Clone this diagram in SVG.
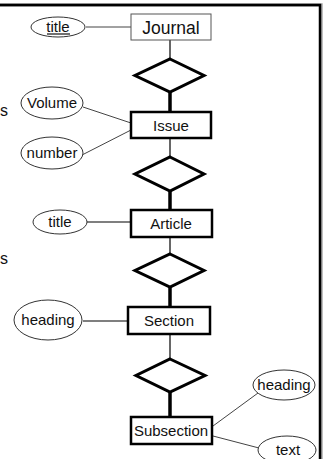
<svg xmlns="http://www.w3.org/2000/svg" width="323" height="459" viewBox="0 0 323 459">
  <style>
    text { font-family: "Liberation Sans", Arial, sans-serif; font-size: 15px; fill: #111; text-anchor: middle; }
    .side { font-size: 16px; text-anchor: start; }
    .ent { fill: #fff; stroke: #000; stroke-width: 2.5; }
    .ent-thin { fill: #fff; stroke: #555; stroke-width: 1; }
    .rel { fill: #fff; stroke: #000; stroke-width: 3; stroke-linejoin: miter; }
    .attr { fill: #fff; stroke: #333; stroke-width: 1; }
    .thin { stroke: #000; stroke-width: 1.2; fill: none; }
    .thick { stroke: #000; stroke-width: 3.5; fill: none; }
    .link { stroke: #444; stroke-width: 1; fill: none; }
    .frame { stroke: #000; stroke-width: 2.5; fill: none; }
  </style>

  <rect width="323" height="459" fill="#fff"/>

  <!-- outer frame (top and right edges visible) -->
  <path d="M0,5 H321 V459" stroke="#aaa" stroke-width="3.5" fill="none"/>
  <path class="frame" d="M0,5 H320 V459"/>

  <!-- side labels at the left margin -->
  <text class="side" x="0" y="116">s</text>
  <text class="side" x="0" y="264">s</text>

  <!-- connectors -->
  <g id="connectors">
    <line class="link" x1="86" y1="27" x2="131" y2="27" stroke="#777"/>
    <line class="thin" x1="170" y1="40" x2="170" y2="59"/>
    <line class="thick" x1="170" y1="92" x2="170" y2="112"/>
    <line class="link" x1="83" y1="107" x2="131" y2="123"/>
    <line class="link" x1="82" y1="155" x2="131" y2="130"/>
    <line class="thin" x1="170" y1="138" x2="170" y2="157"/>
    <line class="thick" x1="170" y1="191" x2="170" y2="210"/>
    <line class="thin" x1="87" y1="222" x2="131" y2="222"/>
    <line class="thin" x1="170" y1="237" x2="170" y2="254"/>
    <line class="thick" x1="170" y1="287" x2="170" y2="307"/>
    <line class="thin" x1="83" y1="321" x2="128" y2="321"/>
    <line class="thin" x1="170" y1="334" x2="170" y2="359"/>
    <line class="thick" x1="170" y1="392" x2="170" y2="417"/>
    <line class="link" x1="213" y1="426" x2="258" y2="393"/>
    <line class="link" x1="213" y1="436" x2="259" y2="448"/>
  </g>

  <!-- entities -->
  <g id="journal">
    <rect class="ent-thin" x="131" y="14" width="80" height="26"/>
    <text x="171" y="33.5" style="font-size:17.5px">Journal</text>
  </g>
  <g id="issue">
    <rect class="ent" x="131" y="112" width="80" height="26"/>
    <text x="171" y="130.5">Issue</text>
  </g>
  <g id="article">
    <rect class="ent" x="131" y="210" width="81" height="27"/>
    <text x="171" y="229">Article</text>
  </g>
  <g id="section">
    <rect class="ent" x="128" y="307" width="82" height="27"/>
    <text x="169" y="326">Section</text>
  </g>
  <g id="subsection">
    <rect class="ent" x="131" y="417" width="81" height="27"/>
    <text x="171" y="436">Subsection</text>
  </g>

  <!-- relationships -->
  <g id="rel-journal-issue">
    <polygon class="rel" points="170,59 204,75.5 170,92 135,75.5"/>
  </g>
  <g id="rel-issue-article">
    <polygon class="rel" points="170,157 204,174 170,191 135,174"/>
  </g>
  <g id="rel-article-section">
    <polygon class="rel" points="170,254 204,270.5 170,287 135,270.5"/>
  </g>
  <g id="rel-section-subsection">
    <polygon class="rel" points="170,359 205,375.5 170,392 136,375.5"/>
  </g>

  <!-- attributes -->
  <g id="attr-journal-title">
    <ellipse class="attr" cx="58" cy="27" rx="27" ry="10"/>
    <text x="58" y="32">title</text>
    <line x1="47" y1="34" x2="70" y2="34" stroke="#111" stroke-width="1.2"/>
  </g>
  <g id="attr-volume">
    <ellipse class="attr" cx="52" cy="103" rx="31" ry="16"/>
    <text x="52" y="108">Volume</text>
  </g>
  <g id="attr-number">
    <ellipse class="attr" cx="52" cy="153" rx="31" ry="16"/>
    <text x="52" y="158">number</text>
  </g>
  <g id="attr-article-title">
    <ellipse class="attr" cx="60" cy="222" rx="27" ry="12"/>
    <text x="60" y="227">title</text>
  </g>
  <g id="attr-section-heading">
    <ellipse class="attr" cx="48" cy="320" rx="34" ry="20"/>
    <text x="48" y="325">heading</text>
  </g>
  <g id="attr-subsection-heading">
    <ellipse class="attr" cx="284" cy="385" rx="31" ry="15"/>
    <text x="284" y="390">heading</text>
  </g>
  <g id="attr-subsection-text">
    <ellipse class="attr" cx="287" cy="450" rx="29" ry="14"/>
    <text x="288" y="455">text</text>
  </g>
</svg>
